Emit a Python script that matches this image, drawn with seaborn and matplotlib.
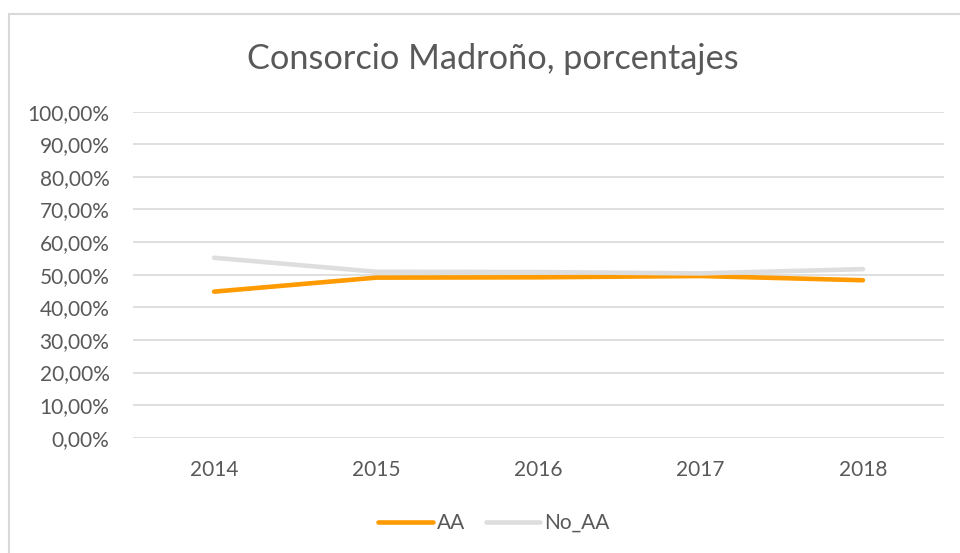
#Add libraries
import pandas as pd
import matplotlib.pyplot as plt
import seaborn as sns
from matplotlib.ticker import FuncFormatter, MultipleLocator
from matplotlib.patches import Rectangle

#Chart data (shares per year)
years = [2014, 2015, 2016, 2017, 2018]
aa = [0.448, 0.491, 0.492, 0.496, 0.483]
no_aa = [0.552, 0.509, 0.508, 0.504, 0.517]
series_names = ['AA', 'No_AA']

#Long format table for seaborn
df = pd.DataFrame({
    'year': years * 2,
    'value': aa + no_aa,
    'serie': [series_names[0]] * len(years) + [series_names[1]] * len(years),
})

#Style
sns.set_style('white')
plt.rcParams['font.family'] = ['Lato', 'DejaVu Sans']
text_color = '#595959'
grid_color = '#D9D9D9'
my_palette = {'AA': '#FF9A00', 'No_AA': '#DEDEDE'}

fig = plt.figure(figsize=(9.6, 5.53), dpi=100)
ax = fig.add_axes([133 / 960, 1 - 437.7 / 553, (944 - 133) / 960, (437.7 - 111.7) / 553])

sns.lineplot(data=df, x='year', y='value', hue='serie', palette=my_palette,
             linewidth=3.3, ax=ax, legend=False, solid_capstyle='round', zorder=3)

#Axes formatting
ax.set_xlim(years[0] - 0.5, years[-1] + 0.5)
ax.set_ylim(0, 1)
ax.set_xticks(years)
ax.set_xticklabels([str(y) for y in years])
ax.yaxis.set_major_locator(MultipleLocator(0.1))
ax.yaxis.set_major_formatter(FuncFormatter(lambda v, p: f'{v * 100:.2f}%'.replace('.', ',')))
ax.grid(axis='y', color=grid_color, linewidth=1.2)
ax.set_axisbelow(True)
for s in ax.spines.values():
    s.set_visible(False)
ax.tick_params(axis='both', length=0, labelsize=15, colors=text_color)
ax.tick_params(axis='y', pad=17)
ax.tick_params(axis='x', pad=16)
ax.set_xlabel('')
ax.set_ylabel('')

#Title
fig.text(492.5 / 960, 1 - 59 / 553, 'Consorcio Madroño, porcentajes', ha='center', va='center',
         fontsize=24.7, color=text_color)

#Legend at the bottom
handles = [plt.Line2D([], [], color=my_palette[n], linewidth=3.3, solid_capstyle='round') for n in series_names]
leg = fig.legend(handles, series_names, loc='center', bbox_to_anchor=(494 / 960, 1 - 523 / 553),
                 ncol=2, frameon=False, fontsize=15, handlelength=2.6, handletextpad=0.2,
                 columnspacing=1.0, labelcolor=text_color)

#Chart area border
fig.patches.append(Rectangle((9 / 960, -0.1), 1.0, (1 - 14 / 553) + 0.1, fill=False,
                             edgecolor=grid_color, linewidth=1.5, transform=fig.transFigure))

fig.savefig('out.png', dpi=100)
